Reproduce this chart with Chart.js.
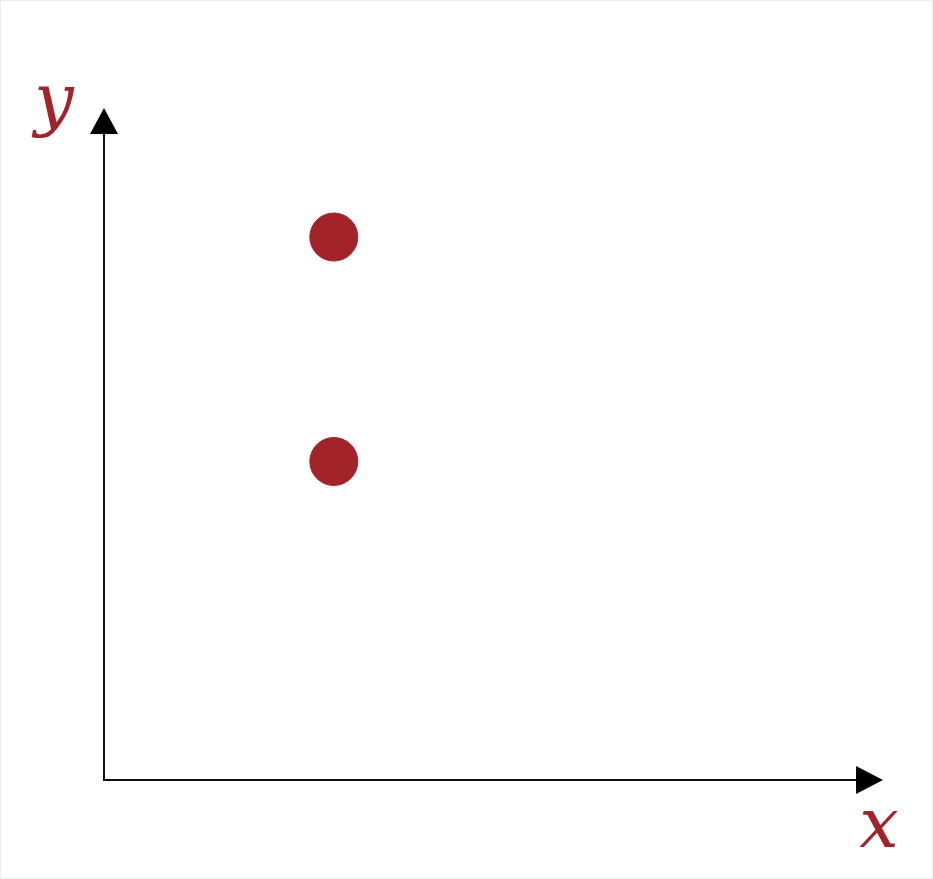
<!DOCTYPE html>
<html>
<head>
<meta charset="utf-8">
<script src="https://cdn.jsdelivr.net/npm/chart.js@4/dist/chart.umd.min.js"></script>
<style>
  html, body { margin: 0; padding: 0; background: #fff; }
  #wrap { width: 933px; height: 879px; position: relative; }
</style>
</head>
<body>
<div id="wrap"><canvas id="myChart"></canvas></div>
<script>
// data (arbitrary units, axes have no ticks)
var xValues = [2.95, 2.95];
var yValues = [8.08, 4.74];
var axisLabels = ['x', 'y'];

var red = '#a3232a';

// draws the two arrowed axes and the italic x / y labels
var arrowAxes = {
    id: 'arrowAxes',
    afterDraw: function(chart) {
        var c = chart.ctx;
        var a = chart.chartArea;
        c.save();

        // faint frame round the picture
        c.strokeStyle = '#ececec';
        c.lineWidth = 2;
        c.strokeRect(0, 0, chart.width, chart.height);

        c.strokeStyle = '#111';
        c.fillStyle = '#000';
        c.lineWidth = 2;
        c.beginPath();
        c.moveTo(a.left, a.top + 20);
        c.lineTo(a.left, a.bottom);
        c.lineTo(a.right - 20, a.bottom);
        c.stroke();

        // y arrow head
        c.beginPath();
        c.moveTo(a.left, a.top);
        c.lineTo(a.left - 14, a.top + 26);
        c.lineTo(a.left + 14, a.top + 26);
        c.closePath();
        c.fill();

        // x arrow head
        c.beginPath();
        c.moveTo(a.right, a.bottom);
        c.lineTo(a.right - 27, a.bottom - 14);
        c.lineTo(a.right - 27, a.bottom + 14);
        c.closePath();
        c.fill();

        c.fillStyle = red;
        c.font = 'italic 70px "DejaVu Serif"';
        c.textAlign = 'center';
        c.textBaseline = 'alphabetic';
        c.fillText(axisLabels[0], a.right - 4, a.bottom + 67);
        c.fillText(axisLabels[1], a.left - 50, a.top + 15);
        c.restore();
    }
};

var ctx = document.getElementById('myChart').getContext('2d');
var pts = xValues.map(function(v, i) { return { x: v, y: yValues[i] }; });

var myChart = new Chart(ctx, {
    type: 'scatter',
    data: {
        datasets: [{
            data: pts,
            backgroundColor: red,
            borderColor: red,
            pointRadius: 24,
            pointHoverRadius: 24
        }]
    },
    options: {
        responsive: true,
        maintainAspectRatio: false,
        animation: false,
        layout: { padding: { left: 96, top: 108, right: 50, bottom: 91 } },
        plugins: { legend: { display: false }, tooltip: { enabled: false } },
        scales: {
            x: {
                min: 0, max: 10,
                grid: { display: false },
                border: { display: false },
                ticks: { display: false }
            },
            y: {
                min: 0, max: 10,
                grid: { display: false },
                border: { display: false },
                ticks: { display: false }
            }
        }
    },
    plugins: [arrowAxes]
});
</script>
</body>
</html>
